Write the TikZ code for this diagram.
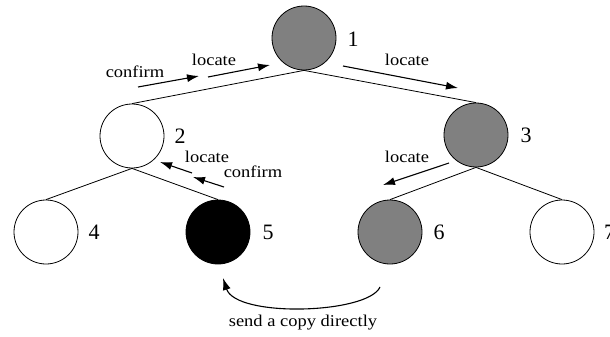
\documentclass[tikz,border=0pt]{standalone}
\usepackage{fontspec}
\usepackage{graphicx}
\setmainfont{Liberation Serif}
\usetikzlibrary{arrows.meta}
\definecolor{peergray}{HTML}{808080}
\tikzset{
  peer/.style={circle, draw=black, line width=0.8pt, minimum size=64pt, inner sep=0pt},
  idle/.style={peer, fill=white},
  holder/.style={peer, fill=peergray},
  source/.style={peer, fill=black},
  num/.style={font=\fontsize{22}{24}\selectfont, inner sep=0pt},
  msg/.style={inner sep=0pt},
  link/.style={line width=0.8pt},
  msgarrow/.style={line width=1.1pt, -{Latex[length=12pt,width=8pt]}}
}
\newcommand{\msgtext}[1]{\scalebox{1.12}[1]{\fontsize{16.5}{18}\selectfont #1}}
\begin{document}
\begin{tikzpicture}[x=1pt, y=-1pt]
\useasboundingbox (0,0) rectangle (610,337);

% peers of the tree
\node[holder] (n1) at (304,38) {};
\node[idle]   (n2) at (132,136) {};
\node[holder] (n3) at (476,135) {};
\node[idle]   (n4) at (46,232) {};
\node[source] (n5) at (218,232) {};
\node[holder] (n6) at (390,232) {};
\node[idle]   (n7) at (562,232) {};

% peer numbers
\node[num] (l1) at (353,39) {1};
\node[num] (l2) at (180,136) {2};
\node[num] (l3) at (526,135) {3};
\node[num] (l4) at (94,232) {4};
\node[num] (l5) at (268,232) {5};
\node[num] (l6) at (439,232) {6};
\node[num, anchor=west] (l7) at (604,232) {7};

% tree links
\draw[link] (n1.south) -- (n2.north);
\draw[link] (n1.south) -- (n3.north);
\draw[link] (n2.south) -- (n4.north);
\draw[link] (n2.south) -- (n5.north);
\draw[link] (n3.south) -- (n6.north);
\draw[link] (n3.south) -- (n7.north);

% messages up the left branch
\coordinate (c1a) at (138,87);  \coordinate (c1b) at (199,76);
\coordinate (c2a) at (208,77);  \coordinate (c2b) at (270,65);
\draw[msgarrow] (c1a) -- (c1b);
\draw[msgarrow] (c2a) -- (c2b);
\node[msg] (t1) at (135,72) {\msgtext{confirm}};
\node[msg] (t2) at (214,60) {\msgtext{locate}};

% messages down the right branch
\coordinate (c3a) at (343,66);  \coordinate (c3b) at (458,88);
\coordinate (c4a) at (449,163); \coordinate (c4b) at (383,185);
\draw[msgarrow] (c3a) -- (c3b);
\draw[msgarrow] (c4a) -- (c4b);
\node[msg] (t3) at (407,60) {\msgtext{locate}};
\node[msg] (t4) at (407,157) {\msgtext{locate}};

% messages from 5 to 2
\coordinate (c5a) at (192,173); \coordinate (c5b) at (160,162);
\coordinate (c6a) at (224,187); \coordinate (c6b) at (193,177);
\draw[msgarrow] (c5a) -- (c5b);
\draw[msgarrow] (c6a) -- (c6b);
\node[msg] (t5) at (207,157) {\msgtext{locate}};
\node[msg] (t6) at (253,172) {\msgtext{confirm}};

% direct copy from 6 to 5
\coordinate (c7a) at (380,287); \coordinate (c7b) at (223,278);
\draw[msgarrow] (c7a) .. controls (368,314) and (236,318) .. (c7b);
\node[msg] (t7) at (303,323) {\msgtext{send a copy directly}};
\end{tikzpicture}
\end{document}
